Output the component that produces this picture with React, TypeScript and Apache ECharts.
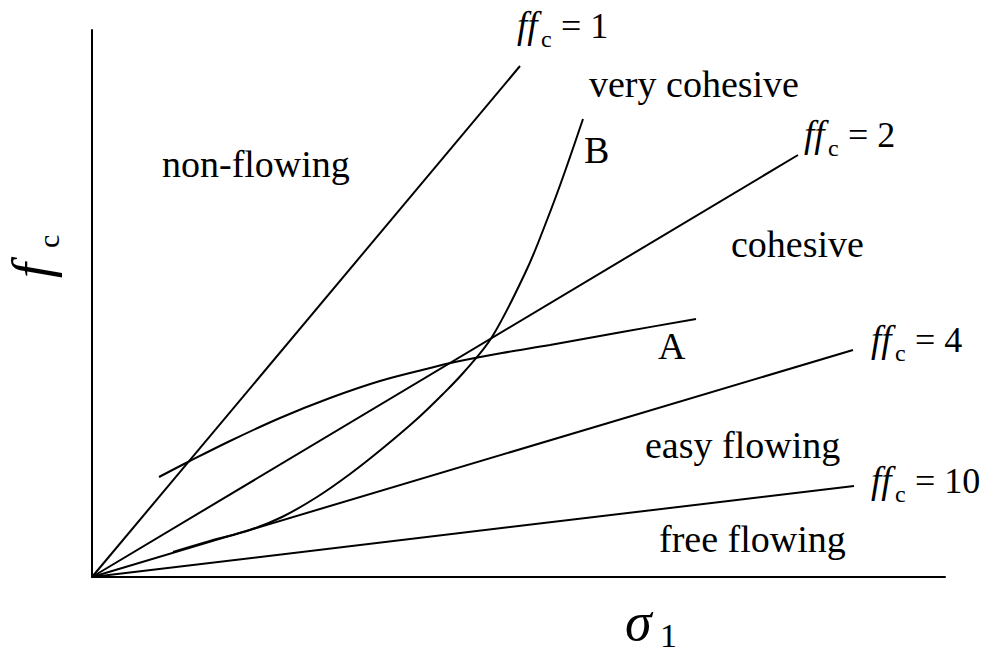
import React, { useEffect, useRef } from "react";
import * as echarts from "echarts";

// Values, in axis units (x: σ1, y: fc; origin at 0,0)
const ffc1Line = [[0, 0], [428, 511]];
const ffc2Line = [[0, 0], [706, 422]];
const ffc4Line = [[0, 0], [761, 227]];
const ffc10Line = [[0, 0], [762, 91]];
const curveA = [[67, 100], [95, 114.5], [138, 136], [188, 159], [238, 179], [288, 196], [338, 209], [363, 215], [410, 224], [458, 232], [530, 245], [604, 258]];
const curveB = [[81, 25], [118, 36], [158, 47], [190, 60], [225, 80], [258, 103], [291, 129], [325, 158], [351, 183], [372, 205], [400, 240], [435, 308], [455, 357], [471, 400], [491, 458]];

const ffcValues = ["1", "2", "4", "10"];
const regionLabels = ["non-flowing", "very cohesive", "cohesive", "easy flowing", "free flowing"];
const curveLabels = ["A", "B"];

// layout (pixels)
const ffcPos = [[513, 38], [800, 147], [867, 352], [867, 493]];
const regionPos = [[162, 177], [589, 97], [731, 257], [645, 458], [659, 552]];
const curvePos = [[658, 359], [584, 163]];

const FAMILY = "'Liberation Serif', 'Times New Roman', 'DejaVu Serif', serif";

function txt(text: string, x: number, baseline: number, size: number, italic = false): any {
  return {
    type: "text",
    x,
    y: baseline - 0.3375 * size,
    silent: true,
    style: {
      text,
      font: (italic ? "italic " : "normal ") + "normal " + size + "px " + FAMILY,
      fill: "#000",
      textAlign: "left",
      textVerticalAlign: "middle",
    },
  };
}

function ffcLabel(val: string, x0: number, b: number): any[] {
  return [
    txt("ff", x0 + 4, b, 37, true),
    txt("c", x0 + 28, b + 9, 24),
    txt("= " + val, x0 + 48, b, 36),
  ];
}

export default function App() {
  const ref = useRef<HTMLDivElement>(null);
  useEffect(() => {
    if (!ref.current) return;
    const chart = echarts.init(ref.current, null, { renderer: "svg" });
    const lineStyle = { color: "#000", width: 2 };
    const mk = (name: string, data: number[][], smooth: any = false) => ({
      type: "line",
      name,
      data,
      smooth,
      showSymbol: false,
      symbol: "none",
      lineStyle,
      silent: true,
    });
    const graphics: any[] = [];
    ffcValues.forEach((v, i) => graphics.push(...ffcLabel(v, ffcPos[i][0], ffcPos[i][1])));
    regionLabels.forEach((t, i) => graphics.push(txt(t, regionPos[i][0], regionPos[i][1], 38)));
    curveLabels.forEach((t, i) => graphics.push(txt(t, curvePos[i][0], curvePos[i][1], 38)));
    // x-axis name σ1
    graphics.push(txt("σ", 625, 640, 54, true));
    graphics.push(txt("1", 660, 647, 34));
    // y-axis name fc (rotated)
    graphics.push({
      type: "group",
      x: 50,
      y: 278,
      rotation: Math.PI / 2,
      children: [txt("f", 0, 0, 54, true), txt("c", 30, 9, 30)],
    });
    chart.setOption({
      animation: false,
      backgroundColor: "#fff",
      grid: { left: 92, top: 30, width: 853, height: 547, containLabel: false },
      xAxis: {
        type: "value",
        min: 0,
        max: 853,
        axisLine: { show: true, lineStyle: { color: "#000", width: 2 } },
        axisTick: { show: false },
        axisLabel: { show: false },
        splitLine: { show: false },
      },
      yAxis: {
        type: "value",
        min: 0,
        max: 547,
        axisLine: { show: true, lineStyle: { color: "#000", width: 2 } },
        axisTick: { show: false },
        axisLabel: { show: false },
        splitLine: { show: false },
      },
      series: [
        mk("ffc1", ffc1Line),
        mk("ffc2", ffc2Line),
        mk("ffc4", ffc4Line),
        mk("ffc10", ffc10Line),
        mk("A", curveA, 0.35),
        mk("B", curveB, 0.35),
      ],
      graphic: graphics,
    });
    return () => chart.dispose();
  }, []);
  return (
    <div
      ref={ref}
      style={{ position: "fixed", left: 0, top: 0, width: 990, height: 655, background: "#fff" }}
    />
  );
}
